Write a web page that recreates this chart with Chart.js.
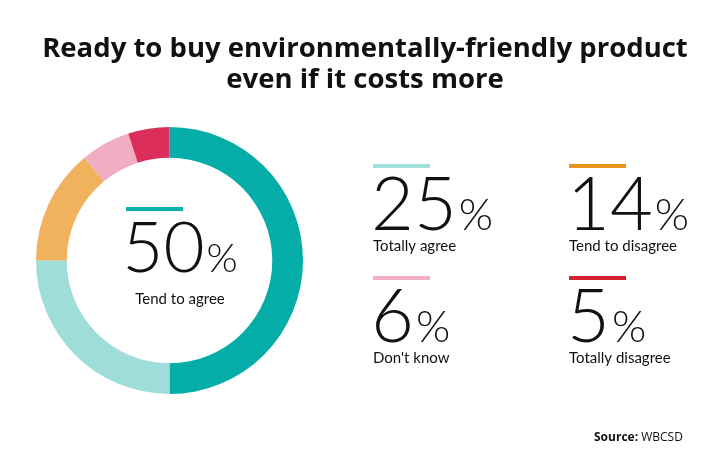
<!DOCTYPE html>
<html>
<head>
<meta charset="utf-8">
<script src="https://cdn.jsdelivr.net/npm/chart.js@4"></script>
<style>
  html, body { margin: 0; padding: 0; background: #fff; }
  #wrap { width: 728px; height: 476px; position: relative; }
</style>
</head>
<body>
<div id="wrap"><canvas id="donut" width="728" height="476"></canvas></div>
<script>
// chart data
const titleLines = ['Ready to buy environmentally-friendly product', 'even if it costs more'];
const categories = ['Tend to agree', 'Totally agree', 'Tend to disagree', "Don't know", 'Totally disagree'];
const shares = [50, 25, 14, 6, 5];
const sliceColors = ['#04ADA8', '#9EDDD9', '#F0B25C', '#F1AEC3', '#DC2E5A'];
const barColors = ['#0AAFA9', '#9FE0DB', '#E8951F', '#F2AFC5', '#D4202F'];
const sourceLabel = 'Source:';
const sourceName = 'WBCSD';

const thinFont = 'Lato, "Noto Sans", sans-serif';
const boldFont = '"Open Sans", "Noto Sans", sans-serif';

// draw "50%" style number with a smaller percent sign
function drawPercent(ctx, value, x, y, bigSize, smallSize, align) {
  const num = String(value);
  ctx.font = '300 ' + bigSize + 'px ' + thinFont;
  const w1 = ctx.measureText(num).width;
  ctx.font = '300 ' + smallSize + 'px ' + thinFont;
  const w2 = ctx.measureText('%').width;
  const gap = 2;
  let left = x;
  if (align === 'center') left = x - (w1 + gap + w2) / 2;
  ctx.textAlign = 'left';
  ctx.textBaseline = 'alphabetic';
  ctx.fillStyle = '#111';
  ctx.font = '300 ' + bigSize + 'px ' + thinFont;
  ctx.fillText(num, left, y);
  ctx.font = '300 ' + smallSize + 'px ' + thinFont;
  ctx.fillText('%', left + w1 + gap, y);
}

const textPlugin = {
  id: 'textPlugin',
  afterDraw(chart) {
    const ctx = chart.ctx;
    ctx.save();

    // title
    ctx.fillStyle = '#111';
    ctx.textAlign = 'center';
    ctx.textBaseline = 'alphabetic';
    ctx.font = '700 27.5px ' + boldFont;
    ctx.fillText(titleLines[0], 365, 57);
    ctx.fillText(titleLines[1], 365, 88);

    // centre of the doughnut: first category
    const cx = 180;
    ctx.fillStyle = barColors[0];
    ctx.fillRect(126, 207, 57, 4);
    drawPercent(ctx, shares[0], cx, 272, 71, 40, 'center');
    ctx.fillStyle = '#111';
    ctx.textAlign = 'center';
    ctx.font = '400 15px ' + thinFont;
    ctx.fillText(categories[0], cx, 304);

    // the other four categories in a 2x2 grid
    const colX = [373, 569];
    const rowY = [164, 276];
    for (let i = 1; i < categories.length; i++) {
      const x = colX[(i - 1) % 2];
      const y = rowY[Math.floor((i - 1) / 2)];
      ctx.fillStyle = barColors[i];
      ctx.fillRect(x, y, 57, 4);
      drawPercent(ctx, shares[i], x - 2, y + 66, 74, 44, 'left');
      ctx.fillStyle = '#111';
      ctx.textAlign = 'left';
      ctx.font = '400 15px ' + thinFont;
      ctx.fillText(categories[i], x, y + 87);
    }

    // source
    ctx.textAlign = 'left';
    ctx.font = '700 12px ' + boldFont;
    const sw = ctx.measureText(sourceLabel + ' ').width;
    ctx.fillText(sourceLabel + ' ', 594, 441);
    ctx.font = '400 12px ' + boldFont;
    ctx.fillText(sourceName, 594 + sw, 441);

    ctx.restore();
  }
};

new Chart(document.getElementById('donut'), {
  type: 'doughnut',
  data: {
    labels: categories,
    datasets: [{
      data: shares,
      backgroundColor: sliceColors,
      borderWidth: 0
    }]
  },
  options: {
    responsive: false,
    animation: false,
    cutout: '77%',
    layout: { padding: { left: 36, right: 425, top: 127, bottom: 82 } },
    plugins: {
      legend: { display: false },
      tooltip: { enabled: false },
      title: { display: false }
    }
  },
  plugins: [textPlugin]
});
</script>
</body>
</html>
